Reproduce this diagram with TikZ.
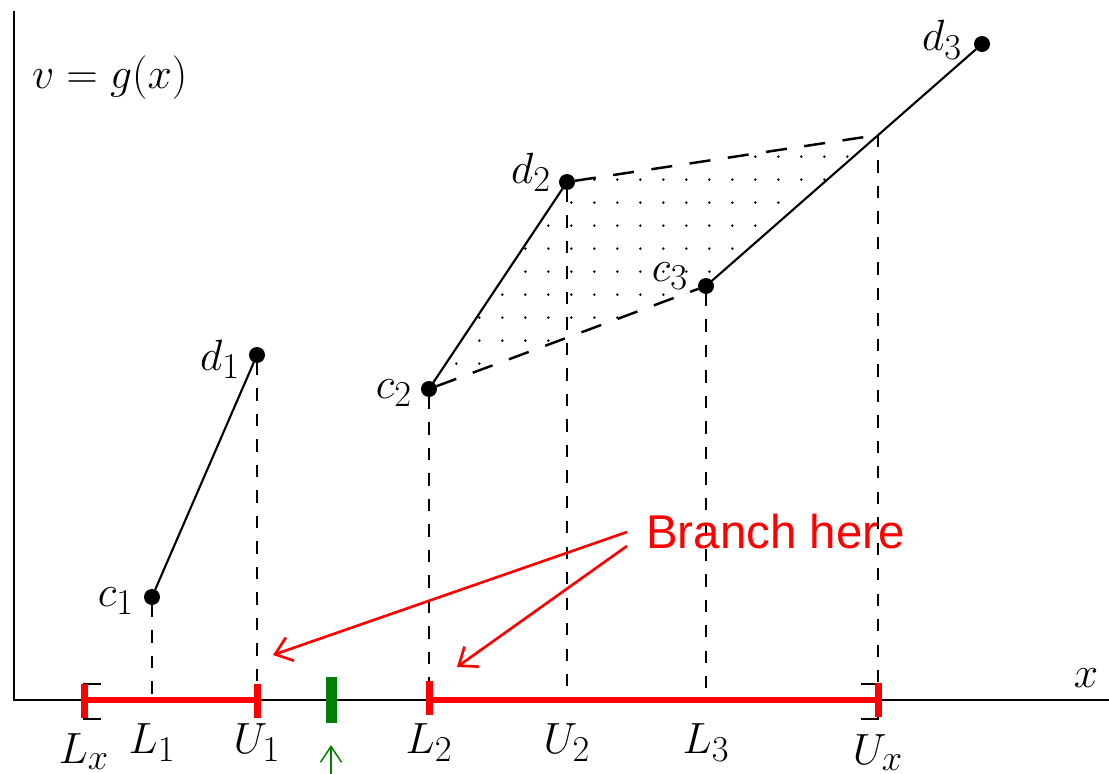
\documentclass[tikz,border=0pt]{standalone}
\usepackage{fontspec}
\newfontfamily\arialfont{Liberation Sans}
\usetikzlibrary{arrows.meta,patterns.meta}
\definecolor{myred}{RGB}{255,0,0}
\definecolor{mygreen}{RGB}{0,128,0}
\tikzset{
  lbl/.style={font=\fontsize{24.88}{30}\selectfont, inner sep=0pt, outer sep=0pt},
  pt/.style={circle, fill=black, minimum size=0.32cm, inner sep=0pt, outer sep=0pt},
  axis/.style={line width=1.5pt},
  seg/.style={line width=1.2pt},
  vdash/.style={line width=1.4pt, dash pattern=on 7pt off 7.5pt},
  bdash/.style={line width=1.4pt, dash pattern=on 12pt off 10pt},
  redbar/.style={draw=myred, line width=3pt},
  redtick/.style={fill=myred, minimum width=0.14cm, minimum height=0.68cm, inner sep=0pt},
  greenbar/.style={fill=mygreen, minimum width=0.22cm, minimum height=0.92cm, inner sep=0pt},
  redarrow/.style={draw=myred, line width=1.5pt, -{Straight Barb[length=9pt,width=14pt]}},
  greenarrow/.style={draw=mygreen, line width=0.9pt, -{Straight Barb[length=9pt,width=12pt]}},
  bracket/.style={line width=1.3pt},
}
\begin{document}
\begin{tikzpicture}[x=0.02cm,y=-0.02cm]
\useasboundingbox (0,0) rectangle (1109,774);
% axes
\coordinate (o) at (14,700);
\coordinate (yt) at (14,11);
\coordinate (xe) at (1109,700);
\draw[axis] (yt) -- (o) -- (xe);
% axis positions
\coordinate (Lxa) at (84,700);
\coordinate (L1a) at (152,700);
\coordinate (U1a) at (257,700);
\coordinate (L2a) at (429,700);
\coordinate (U2a) at (567,700);
\coordinate (L3a) at (706,700);
\coordinate (Uxa) at (878,700);
% points
\coordinate (pc1) at (152,597);
\coordinate (pd1) at (257,355);
\coordinate (pc2) at (429,389);
\coordinate (pd2) at (567,182);
\coordinate (pc3) at (706,286);
\coordinate (pd3) at (982,44);
\coordinate (k) at (878,135);
% dotted region
\fill[pattern={Dots[distance=13pt,radius=0.8pt]}] (pc2) -- (pd2) -- (k) -- (pc3) -- cycle;
% point nodes
\node[pt] (c1) at (pc1) {};
\node[pt] (d1) at (pd1) {};
\node[pt] (c2) at (pc2) {};
\node[pt] (d2) at (pd2) {};
\node[pt] (c3) at (pc3) {};
\node[pt] (d3) at (pd3) {};
% solid segments
\draw[seg] (c1) -- (d1);
\draw[seg] (c2) -- (d2);
\draw[seg] (c3) -- (d3);
% dashed boundary
\draw[bdash] (d2) -- (k);
\draw[bdash] (c2) -- (c3);
% vertical dashed
\draw[vdash] (c1) -- (L1a);
\draw[vdash] (d1) -- (U1a);
\draw[vdash] (c2) -- (L2a);
\draw[vdash] (d2) -- (U2a);
\draw[vdash] (c3) -- (L3a);
\draw[vdash] (k) -- (Uxa);
% brackets
\draw[bracket] (101,684) -- (84,684) -- (84,719) -- (101,719);
\draw[bracket] (861,684) -- (878,684) -- (878,719) -- (861,719);
% red intervals
\draw[redbar] (Lxa) -- (U1a);
\draw[redbar] (L2a) -- (Uxa);
\node[redtick] (tLx) at (84,701) {};
\node[redtick] (tU1) at (257,701) {};
\node[redtick] (tL2) at (429,698) {};
\node[redtick] (tUx) at (878,700) {};
% green marker
\node[greenbar] (gb) at (331,700) {};
\coordinate (g0) at (331,774);
\coordinate (g1) at (331,745);
\draw[greenarrow] (g0) -- (g1);
% labels
\node[lbl, anchor=base west] (vg) at (32,88) {$v=g(x)$};
\node[lbl, anchor=base] (xl) at (1086,687) {$x$};
\node[lbl, anchor=base east] (lc1) at (134,606) {$c_1$};
\node[lbl, anchor=base east] (ld1) at (240,370) {$d_1$};
\node[lbl, anchor=base east] (lc2) at (412,398) {$c_2$};
\node[lbl, anchor=base east] (ld2) at (551,183) {$d_2$};
\node[lbl, anchor=base east] (lc3) at (688,281) {$c_3$};
\node[lbl, anchor=base east] (ld3) at (962,51) {$d_3$};
\node[lbl, anchor=base] (lLx) at (84,763) {$L_x$};
\node[lbl, anchor=base] (lL1) at (152,753) {$L_1$};
\node[lbl, anchor=base] (lU1) at (257,753) {$U_1$};
\node[lbl, anchor=base] (lL2) at (429,753) {$L_2$};
\node[lbl, anchor=base] (lU2) at (567,753) {$U_2$};
\node[lbl, anchor=base] (lL3) at (706,753) {$L_3$};
\node[lbl, anchor=base] (lUx) at (878,764) {$U_x$};
% branch here
\node[anchor=base west, text=myred, font=\arialfont\fontsize{27}{32}\selectfont, inner sep=0pt] (br) at (646,548) {Branch here};
\coordinate (a1) at (627,532);
\coordinate (t1) at (273,655);
\coordinate (a2) at (627,546);
\coordinate (t2) at (457,667);
\draw[redarrow] (a1) -- (t1);
\draw[redarrow] (a2) -- (t2);
\end{tikzpicture}
\end{document}
